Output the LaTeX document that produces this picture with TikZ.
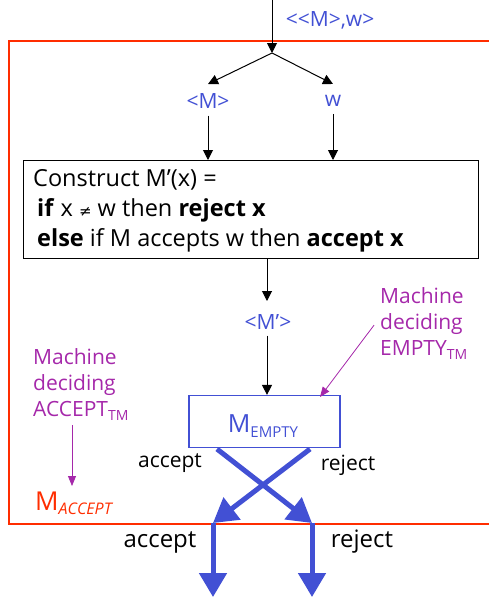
\documentclass[tikz,border=0pt]{standalone}
\usepackage{fontspec}
\setmainfont{Open Sans}
\newfontfamily\symf{DejaVu Sans}
\usetikzlibrary{arrows.meta}
\definecolor{tblue}{RGB}{66,80,212}
\definecolor{tmag}{RGB}{165,40,170}
\definecolor{tred}{RGB}{255,45,0}
\tikzset{
  blk/.style={draw=black, line width=1pt, -{Triangle[width=10pt,length=10pt]}},
  fat/.style={draw=tblue, line width=5pt, -{Triangle[width=27pt,length=24pt]}},
  thin/.style={draw=tmag, line width=0.8pt, -{Triangle[width=8pt,length=10pt]}},
  bluetxt/.style={inner sep=0pt, text=tblue, font=\fontsize{21}{21}\selectfont},
  magtxt/.style={inner sep=0pt, text=tmag, align=left, font=\fontsize{21}{26}\selectfont},
  boxtxt/.style={inner sep=0pt, anchor=west, font=\fontsize{23.5}{23.5}\selectfont},
  lbl/.style={inner sep=0pt, font=\fontsize{21}{21}\selectfont},
  lblbig/.style={inner sep=0pt, font=\fontsize{24}{24}\selectfont},
}
\begin{document}
\begin{tikzpicture}[x=1pt,y=-1pt]
\useasboundingbox (0,0) rectangle (488,597);
% red frame (open on right)
\draw[tred, line width=1.5pt] (495,41) -- (9,41) -- (9,524) -- (495,524);

% input
\coordinate (top) at (272,0);
\coordinate (split) at (272,53);
\node[bluetxt] (mw) at (330,20) {{<}{<}M{>},w{>}};
\node[bluetxt] (M) at (208,101) {{<}M{>}};
\node[bluetxt] (w) at (333,101) {w};
\coordinate (Mtip) at (208,84);
\coordinate (wtip) at (333,84);
\draw[blk] (top) -- (split);
\draw[blk] (split) -- (Mtip);
\draw[blk] (split) -- (wtip);

% construct box
\node[draw=black, line width=1pt, minimum width=455pt, minimum height=98pt, anchor=north west, inner sep=0pt] (box) at (23,160) {};
\node[boxtxt] (l1) at (33,180) {Construct M’(x) =};
\node[boxtxt] (l2) at (37,210) {\textbf{if} x {\symf\fontsize{15}{15}\selectfont ≠} w then \textbf{reject x}};
\node[boxtxt] (l3) at (37,240) {\textbf{else} if M accepts w then \textbf{accept x}};
\draw[blk] ([yshift=-7pt]M.south) -- (box.north -| M);
\draw[blk] ([yshift=-7pt]w.south) -- (box.north -| w);

% M'
\node[bluetxt] (Mp) at (268,322) {{<}M’{>}};
\coordinate (Mptip) at (267,301);
\draw[blk] (box.south -| Mptip) -- (Mptip);

% M_EMPTY box
\node[draw=tblue, line width=1.2pt, minimum width=151pt, minimum height=52pt, inner sep=0pt] (empty) at (264.5,421.5) {};
\node[inner sep=0pt, text=tblue] (emptytxt) at (263,426) {\fontsize{25}{25}\selectfont M\raisebox{-5pt}{\fontsize{15}{15}\selectfont EMPTY}};
\draw[blk] ([yshift=-6pt]Mp.south -| Mptip) -- (empty.north -| Mptip);

% magenta annotations
\node[magtxt, anchor=north west] (mE) at (380,287) {Machine\\deciding\\EMPTY\raisebox{-4pt}{\fontsize{14}{14}\selectfont TM}};
\coordinate (mEtip) at (320,397);
\draw[thin] ([xshift=-6pt,yshift=-2pt]mE.west) -- (mEtip);

\node[magtxt, anchor=north west] (mA) at (33,348) {Machine\\deciding\\ACCEPT\raisebox{-4pt}{\fontsize{14}{14}\selectfont TM}};
\coordinate (mAstart) at (72,425);
\coordinate (mAtip) at (72,486);
\draw[thin] (mAstart) -- (mAtip);
\node[inner sep=0pt, text=tred, anchor=west] (MA) at (35,503) {\fontsize{26}{26}\selectfont M\raisebox{-4pt}{\fontsize{16}{16}\selectfont\itshape ACCEPT}};

% crossing outputs
\coordinate (accS) at (217,449);
\coordinate (rejS) at (310,449);
\coordinate (accO) at (213,523);
\coordinate (rejO) at (312,523);
\coordinate (accE) at (213,597);
\coordinate (rejE) at (312,597);
\draw[fat] (accS) -- (rejO);
\draw[fat] (rejS) -- (accO);
\draw[fat] (accO) -- (accE);
\draw[fat] (rejO) -- (rejE);

\node[lbl] (acc1) at (170,463) {accept};
\node[lbl] (rej1) at (348,465) {reject};
\node[lblbig] (acc2) at (160,542) {accept};
\node[lblbig] (rej2) at (362,542) {reject};
\end{tikzpicture}
\end{document}
